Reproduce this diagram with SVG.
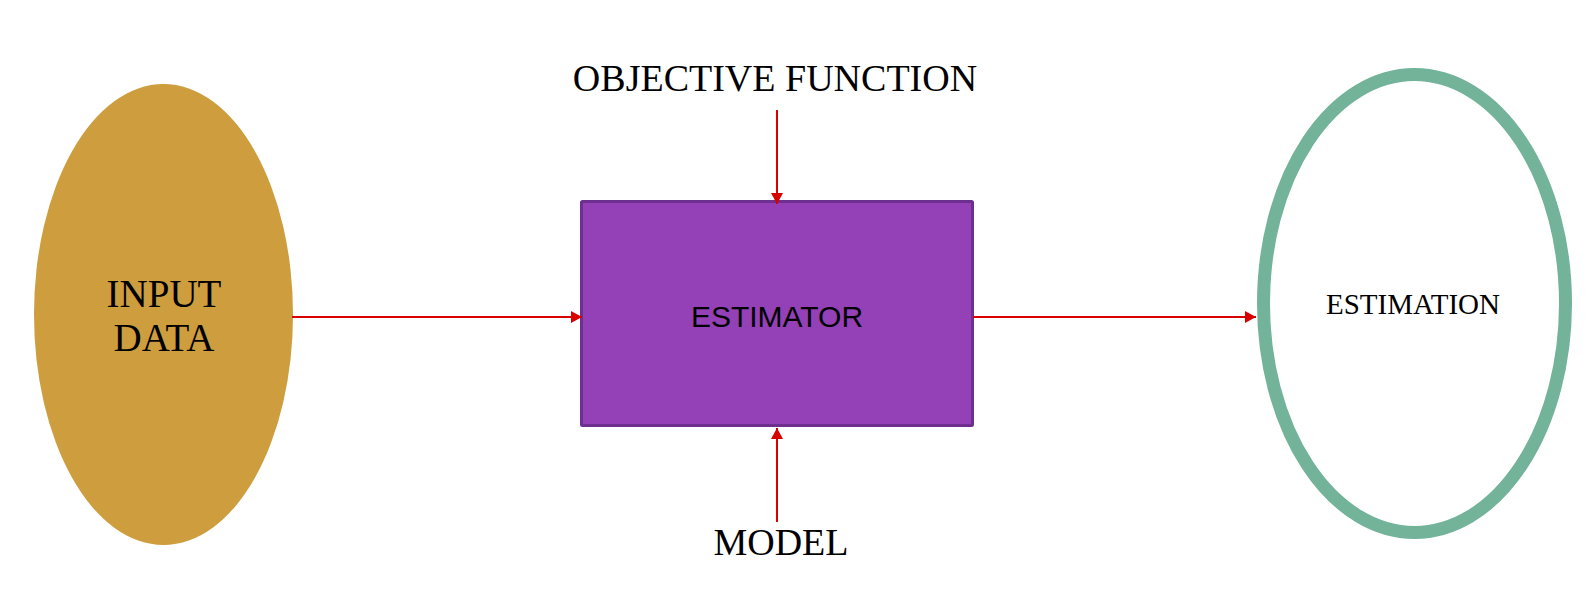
<svg xmlns="http://www.w3.org/2000/svg" width="1592" height="592" viewBox="0 0 1592 592">
<style>
.serif{font-family:"Liberation Serif","Times New Roman",serif;fill:#000;text-anchor:middle}
.sans{font-family:"Liberation Sans",Arial,sans-serif;fill:#000;text-anchor:middle}
.conn{stroke:#D90000;stroke-width:2;fill:none;marker-end:url(#arrow)}
</style>
<defs>
<marker id="arrow" markerWidth="12" markerHeight="12" refX="11" refY="6" orient="auto" markerUnits="userSpaceOnUse">
<path d="M0,0 L11,6 L0,12 Z" fill="#D90000"/>
</marker>
</defs>
<rect width="1592" height="592" fill="#fff"/>
<g id="input-data">
<ellipse cx="163.5" cy="314.5" rx="129.5" ry="230.5" fill="#CD9D3E"/>
<text class="serif" x="164" y="307" font-size="39">INPUT</text>
<text class="serif" x="164" y="351" font-size="39">DATA</text>
</g>
<g id="estimator">
<rect x="581.5" y="201.5" width="391" height="224" fill="#9440B7" stroke="#6E3090" stroke-width="3" rx="1"/>
<text class="sans" x="777" y="327" font-size="30">ESTIMATOR</text>
</g>
<g id="estimation">
<ellipse cx="1414.5" cy="303.5" rx="151" ry="229" fill="#fff" stroke="#72B39A" stroke-width="13"/>
<text class="serif" x="1413" y="314" font-size="29">ESTIMATION</text>
</g>
<g id="objective-function">
<text class="serif" x="775" y="91" font-size="38">OBJECTIVE FUNCTION</text>
</g>
<g id="model">
<text class="serif" x="781" y="555" font-size="38">MODEL</text>
</g>
<g id="connectors">
<line class="conn" x1="292" y1="317" x2="582" y2="317"/>
<line class="conn" x1="973" y1="317" x2="1256" y2="317"/>
<line class="conn" x1="777" y1="110" x2="777" y2="204"/>
<line class="conn" x1="777" y1="522" x2="777" y2="428"/>
</g>
</svg>
